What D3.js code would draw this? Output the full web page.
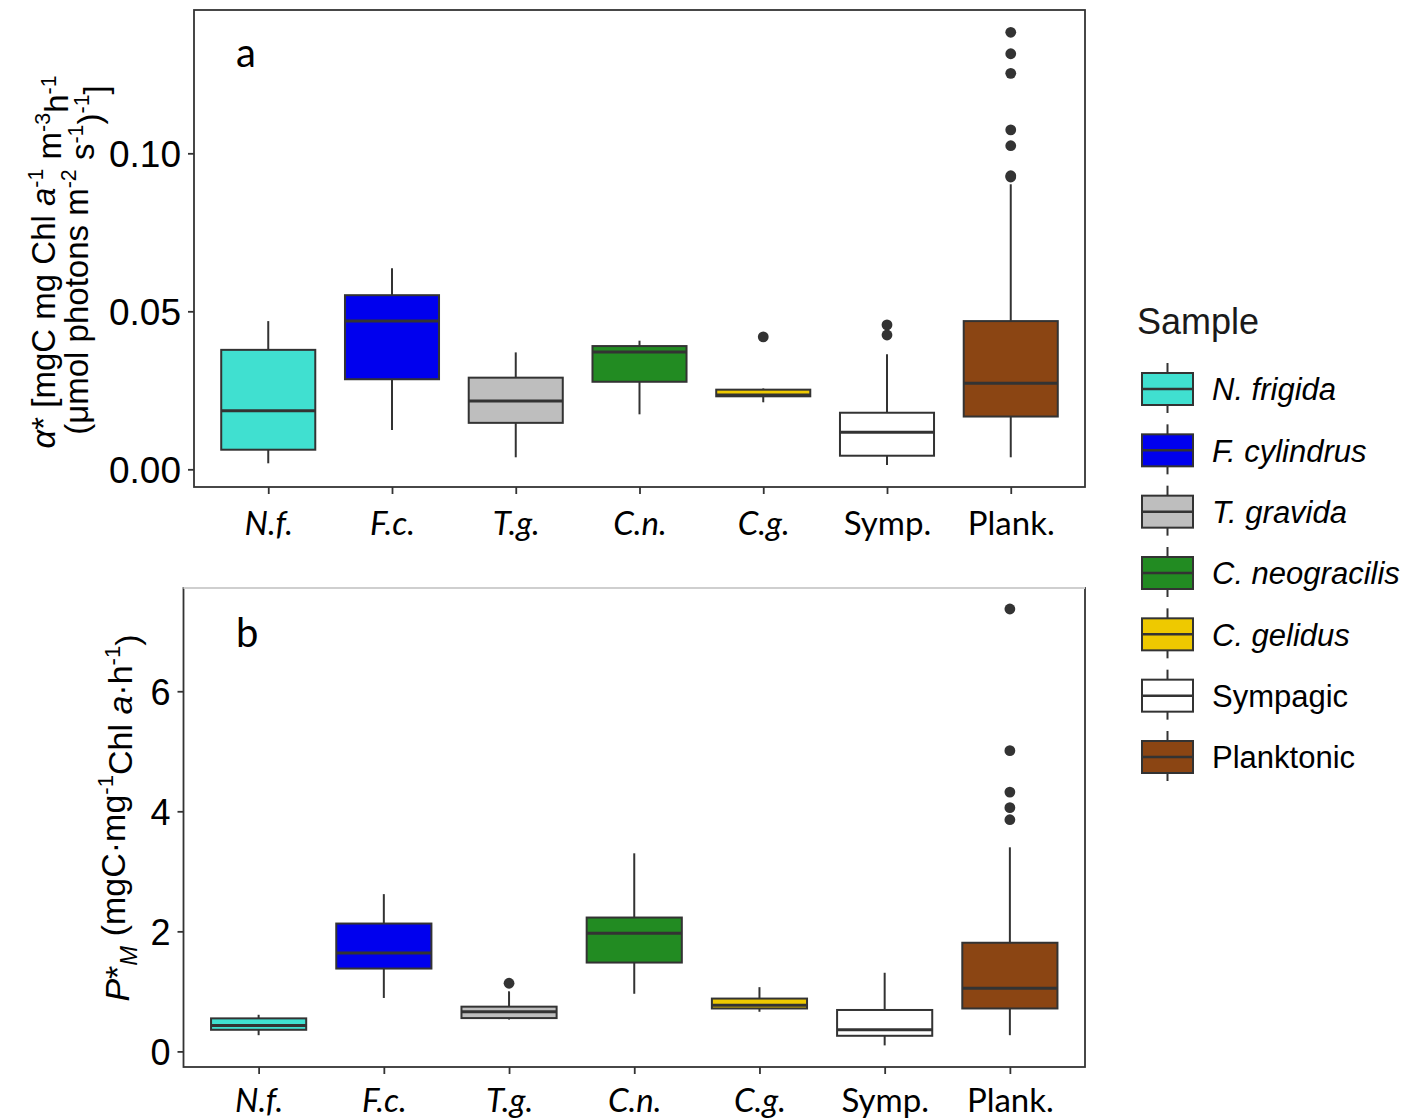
<!DOCTYPE html>
<html>
<head>
<meta charset="utf-8">
<script src="https://cdn.jsdelivr.net/npm/d3@7"></script>
<style>
  body { margin: 0; background: #fff; }
  svg { display: block; }
</style>
</head>
<body>
<div id="chart"></div>
<script>
// Boxplots of alpha* (panel a) and P*M (panel b) by sample

const width = 1422,
    height = 1120;

const categories = ["N.f.", "F.c.", "T.g.", "C.n.", "C.g.", "Symp.", "Plank."];
const italicCat = [true, true, true, true, true, false, false];
const legendNames = ["N. frigida", "F. cylindrus", "T. gravida", "C. neogracilis", "C. gelidus", "Sympagic", "Planktonic"];
const fills = ["#40E0D0", "#0000EE", "#BEBEBE", "#228B22", "#EEC900", "#FFFFFF", "#8B4513"];

// panel a: alpha*
const alphaLow  = [0.0019, 0.0124, 0.0038, 0.0174, 0.0212, 0.0014, 0.0038];
const alphaQ1   = [0.0062, 0.0285, 0.0147, 0.0277, 0.0231, 0.0043, 0.0167];
const alphaMed  = [0.0185, 0.0469, 0.0216, 0.0371, 0.0235, 0.0117, 0.0272];
const alphaQ3   = [0.0378, 0.0551, 0.0290, 0.0390, 0.0252, 0.0179, 0.0469];
const alphaHigh = [0.0469, 0.0636, 0.0370, 0.0407, 0.0256, 0.0364, 0.0902];
const alphaOut  = [[], [], [], [], [0.0419], [0.0457, 0.0425],
                   [0.1383, 0.1315, 0.1253, 0.1074, 0.1024, 0.0929, 0.0925]];
const alphaTicks = [0, 0.05, 0.10];

// panel b: P*M
const pmLow  = [0.27, 0.89, 0.53, 0.96, 0.66, 0.10, 0.27];
const pmQ1   = [0.36, 1.38, 0.555, 1.48, 0.715, 0.26, 0.715];
const pmMed  = [0.43, 1.64, 0.66, 1.97, 0.77, 0.36, 1.05];
const pmQ3   = [0.55, 2.13, 0.745, 2.23, 0.88, 0.69, 1.81];
const pmHigh = [0.61, 2.62, 1.0, 3.30, 1.07, 1.31, 3.40];
const pmOut  = [[], [], [1.135], [], [], [], [7.37, 5.01, 4.32, 4.06, 3.86]];
const pmTicks = [0, 2, 4, 6];

const line = "#333333";
const axisFont = "'Liberation Sans', Arial, sans-serif";
const catFont = "Lato, 'Open Sans', sans-serif";

const svg = d3.select("#chart")
    .append("svg")
    .attr("width", width)
    .attr("height", height)
    .attr("viewBox", [0, 0, width, height]);

function drawPanel(p) {
    const g = svg.append("g");

    const x = d3.scalePoint()
        .domain(categories)
        .range([p.left, p.right])
        .padding(0.6);

    const y = d3.scaleLinear()
        .domain(p.domain)
        .range([p.bottom, p.top]);

    const boxW = x.step() * 0.76;

    const rows = categories.map((c, i) => ({
        cat: c, i: i,
        low: p.low[i], q1: p.q1[i], med: p.med[i], q3: p.q3[i], high: p.high[i],
        out: p.out[i]
    }));

    // frame
    g.append("rect")
        .attr("x", p.left).attr("y", p.top)
        .attr("width", p.right - p.left)
        .attr("height", p.bottom - p.top)
        .attr("fill", "none")
        .attr("stroke", line)
        .attr("stroke-width", 1.8);
    if (p.lightTop) {
        g.append("line")
            .attr("x1", p.left).attr("x2", p.right)
            .attr("y1", p.top).attr("y2", p.top)
            .attr("stroke", "#cfcfcf")
            .attr("stroke-width", 2);
    }

    // y axis
    const yAxis = g.append("g")
        .attr("transform", `translate(${p.left},0)`)
        .call(d3.axisLeft(y).tickValues(p.ticks).tickSize(6).tickPadding(7).tickFormat(p.fmt));
    yAxis.select(".domain").remove();
    yAxis.selectAll(".tick line").attr("stroke", line).attr("stroke-width", 1.8);
    yAxis.selectAll(".tick text")
        .attr("fill", "#000")
        .attr("dy", "0.36em")
        .style("font-family", axisFont)
        .style("font-size", p.tickSize + "px");

    // x axis
    const xAxis = g.append("g")
        .attr("transform", `translate(0,${p.bottom})`)
        .call(d3.axisBottom(x).tickSize(7).tickPadding(0));
    xAxis.select(".domain").remove();
    xAxis.selectAll(".tick line").attr("stroke", line).attr("stroke-width", 1.8);
    xAxis.selectAll(".tick text")
        .attr("fill", "#000")
        .attr("y", p.labelY)
        .attr("dy", 0)
        .style("font-family", catFont)
        .style("font-size", "33px")
        .style("font-style", (d, i) => italicCat[i] ? "italic" : "normal");

    const boxes = g.append("g").selectAll("g")
        .data(rows)
        .join("g");

    // whiskers
    boxes.append("line")
        .attr("x1", d => x(d.cat)).attr("x2", d => x(d.cat))
        .attr("y1", d => y(d.high)).attr("y2", d => y(d.q3))
        .attr("stroke", line).attr("stroke-width", 2);
    boxes.append("line")
        .attr("x1", d => x(d.cat)).attr("x2", d => x(d.cat))
        .attr("y1", d => y(d.q1)).attr("y2", d => y(d.low))
        .attr("stroke", line).attr("stroke-width", 2);

    boxes.append("rect")
        .attr("x", d => x(d.cat) - boxW / 2)
        .attr("y", d => y(d.q3))
        .attr("width", boxW)
        .attr("height", d => y(d.q1) - y(d.q3))
        .attr("fill", d => fills[d.i])
        .attr("stroke", line)
        .attr("stroke-width", 2);

    boxes.append("line")
        .attr("x1", d => x(d.cat) - boxW / 2).attr("x2", d => x(d.cat) + boxW / 2)
        .attr("y1", d => y(d.med)).attr("y2", d => y(d.med))
        .attr("stroke", line).attr("stroke-width", 3);

    boxes.selectAll("circle")
        .data(d => d.out.map(v => ({ cat: d.cat, v: v })))
        .join("circle")
        .attr("cx", d => x(d.cat))
        .attr("cy", d => y(d.v))
        .attr("r", 5.4)
        .attr("fill", line);

    // panel letter
    g.append("text")
        .attr("x", p.letterX).attr("y", p.letterY)
        .attr("fill", "#000")
        .style("font-family", catFont)
        .style("font-size", "40px")
        .text(p.letter);

    return g;
}

drawPanel({
    left: 194, right: 1085, top: 10, bottom: 487,
    domain: [-0.0056, 0.14535],
    ticks: alphaTicks, fmt: d3.format(".2f"), tickSize: 37,
    low: alphaLow, q1: alphaQ1, med: alphaMed, q3: alphaQ3, high: alphaHigh, out: alphaOut,
    labelY: 48, letter: "a", letterX: 236, letterY: 67
});

drawPanel({
    left: 183.5, right: 1085, top: 588, bottom: 1067,
    domain: [-0.26, 7.72],
    ticks: pmTicks, fmt: d3.format("d"), tickSize: 36, lightTop: true,
    low: pmLow, q1: pmQ1, med: pmMed, q3: pmQ3, high: pmHigh, out: pmOut,
    labelY: 45, letter: "b", letterX: 236, letterY: 647
});

// y titles
const sup = (sel, t) => sel.append("tspan").attr("dy", "-0.55em").style("font-size", "0.65em").text(t);
const back = (sel, t) => sel.append("tspan").attr("dy", "0.55em").text(t);

const t1 = svg.append("text")
    .attr("transform", "translate(55,262) rotate(-90)")
    .attr("text-anchor", "middle")
    .attr("fill", "#000")
    .style("font-family", axisFont)
    .style("font-size", "33px");
t1.append("tspan").style("font-style", "italic").text("α");
t1.append("tspan").text("* [mgC mg Chl ");
t1.append("tspan").style("font-style", "italic").text("a");
sup(t1, "-1");
back(t1, " m");
sup(t1, "-3");
back(t1, "h");
sup(t1, "-1");

const t2 = svg.append("text")
    .attr("transform", "translate(88,260) rotate(-90)")
    .attr("text-anchor", "middle")
    .attr("fill", "#000")
    .style("font-family", axisFont)
    .style("font-size", "33px");
t2.append("tspan").text("(μmol photons m");
sup(t2, "-2");
back(t2, " s");
sup(t2, "-1");
back(t2, ")");
sup(t2, "-1");
back(t2, "]");

const t3 = svg.append("text")
    .attr("transform", "translate(129,818) rotate(-90)")
    .attr("text-anchor", "middle")
    .attr("fill", "#000")
    .style("font-family", axisFont)
    .style("font-size", "34px");
t3.append("tspan").style("font-style", "italic").text("P");
t3.append("tspan").text("*");
t3.append("tspan").attr("dy", "0.35em").style("font-size", "0.7em").style("font-style", "italic").text("M");
t3.append("tspan").attr("dy", "-0.35em").text(" (mgC·mg");
sup(t3, "-1");
back(t3, "Chl ");
t3.append("tspan").style("font-style", "italic").text("a");
t3.append("tspan").text("·h");
sup(t3, "-1");
back(t3, ")");

// legend
const legend = svg.append("g");

legend.append("text")
    .attr("x", 1137).attr("y", 334)
    .attr("fill", "#1a1a1a")
    .style("font-family", axisFont)
    .style("font-size", "36px")
    .text("Sample");

const ly = d3.scalePoint()
    .domain(legendNames)
    .range([389, 757]);

const keys = legend.selectAll("g.key")
    .data(legendNames)
    .join("g")
    .attr("class", "key")
    .attr("transform", d => `translate(1142,${ly(d)})`);

keys.append("line")
    .attr("x1", 25.5).attr("x2", 25.5)
    .attr("y1", -26).attr("y2", 24)
    .attr("stroke", line).attr("stroke-width", 2);

keys.append("rect")
    .attr("x", 0).attr("y", -16)
    .attr("width", 51).attr("height", 32)
    .attr("fill", (d, i) => fills[i])
    .attr("stroke", line)
    .attr("stroke-width", 2);

keys.append("line")
    .attr("x1", 0).attr("x2", 51)
    .attr("y1", 0).attr("y2", 0)
    .attr("stroke", line).attr("stroke-width", 2.5);

keys.append("text")
    .attr("x", 70).attr("y", 0)
    .attr("dy", "0.36em")
    .attr("fill", "#000")
    .style("font-family", axisFont)
    .style("font-size", "31px")
    .style("font-style", (d, i) => i < 5 ? "italic" : "normal")
    .text(d => d);
</script>
</body>
</html>
